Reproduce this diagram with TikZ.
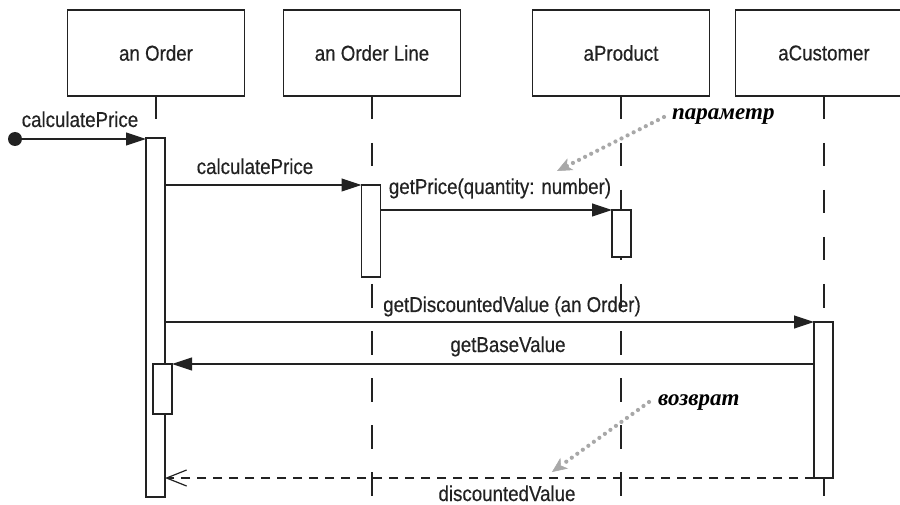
\documentclass[tikz,border=0pt]{standalone}
\usepackage{fontspec}
\setmainfont{Liberation Sans}[FakeStretch=0.87,FakeBold=0.4]
\newfontfamily\annotfont{Liberation Serif}
\usetikzlibrary{arrows.meta}
\definecolor{ink}{HTML}{222222}
\definecolor{dotgray}{HTML}{A8A8A8}
\begin{document}
\begin{tikzpicture}[x=1pt,y=-1pt,
  every node/.style={font=\fontsize{21.5}{24}\selectfont, text=ink},
  obj/.style={draw=ink, line width=1.2pt, minimum width=177pt, minimum height=86pt, inner sep=0pt, outer sep=0pt},
  act/.style={draw=ink, fill=white, line width=1.2pt, minimum width=19pt, inner sep=0pt, outer sep=0pt, anchor=north},
  life/.style={draw=ink, line width=1.2pt, dash pattern=on 23.5pt off 23.5pt},
  msg/.style={draw=ink, line width=1.2pt, -{Triangle[length=20pt,width=13pt]}},
  ret/.style={draw=ink, line width=1.2pt, dash pattern=on 9pt off 7pt, -{Straight Barb[length=20pt,width=16pt]}},
  note/.style={font=\annotfont\bfseries\itshape\fontsize{23}{24}\selectfont, text=black, anchor=base west, inner sep=0pt},
  pointer/.style={draw=dotgray, line width=4.2pt, line cap=round, dash pattern=on 0pt off 6.8pt, -{Stealth[length=15pt,width=13pt,inset=4pt,line width=0.5pt]}},
  lbl/.style={anchor=base, inner sep=0pt}]
\clip (0,0) rectangle (900,505);
\fill[white] (0,0) rectangle (900,505);
% objects
\node[obj] (o1) at (156,53) {an Order};
\node[obj] (o2) at (372,53) {an Order Line};
\node[obj] (o3) at (621,53) {aProduct};
\node[obj] (o4) at (824,53) {aCustomer};
% lifeline ends
\coordinate (e1) at (156,510);
\coordinate (e2) at (372,510);
\coordinate (e3) at (621,510);
\coordinate (e4) at (824,510);
\draw[life] (o1.south) -- (e1);
\draw[life] (o2.south) -- (e2);
\draw[life] (o3.south) -- (e3);
\draw[life] (o4.south) -- (e4);
% activations
\node[act, minimum height=359pt] (a1) at (155.5,138) {};
\node[act, minimum height=92pt] (a2) at (371,185) {};
\node[act, minimum height=47pt] (a3) at (621.5,210) {};
\node[act, minimum height=156pt] (a4) at (823.5,322) {};
\node[act, minimum height=50pt] (a5) at (162.5,364) {};
% found message
\node[circle, fill=ink, minimum size=14pt, inner sep=0pt] (src) at (15,139) {};
\draw[msg] (src.center) -- (src.center -| a1.west);
\node[lbl] (l1) at (80,127) {calculatePrice};
% calls
\draw[msg] (a2.north west -| a1.east) -- (a2.north west);
\node[lbl] (l2) at (255,174) {calculatePrice};
\draw[msg] (a3.north west -| a2.east) -- (a3.north west);
\node[lbl] (l3) at (500,194) {getPrice(quantity: number)};
\draw[msg] (a4.north west -| a1.east) -- (a4.north west);
\node[lbl] (l4) at (512,312) {getDiscountedValue (an Order)};
\draw[msg] (a5.north east -| a4.west) -- (a5.north east);
\node[lbl] (l5) at (508,352) {getBaseValue};
\draw[ret] (a4.south west) -- (a4.south west -| a1.east);
\node[lbl] (l6) at (507,501) {discountedValue};
% notes
\node[note] (n1) at (672,120) {параметр};
\coordinate (p1) at (557,171);
\draw[pointer] ([xshift=-8pt,yshift=3pt]n1.base west) -- (p1);
\node[note] (n2) at (658,405) {возврат};
\coordinate (p2) at (552,472);
\draw[pointer] ([xshift=-9pt,yshift=3pt]n2.base west) -- (p2);
\end{tikzpicture}
\end{document}
